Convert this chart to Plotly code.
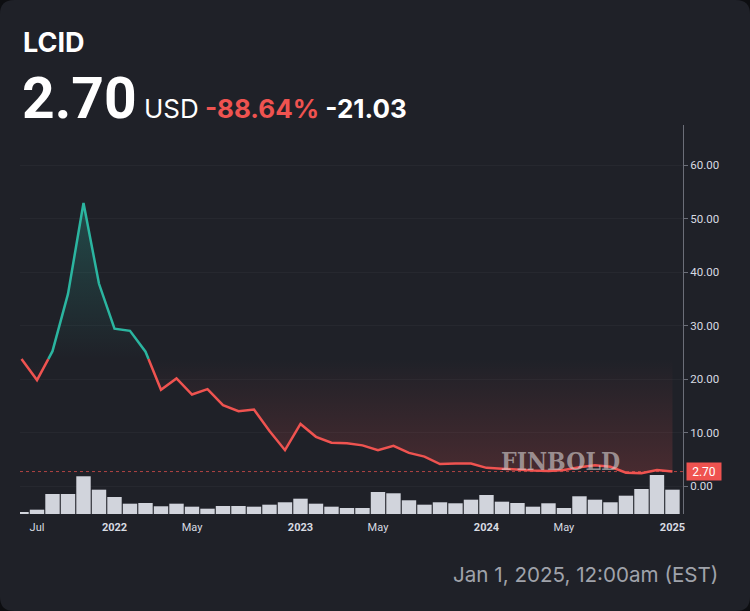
import numpy as np
import plotly.graph_objects as go

# ---------------- data ----------------
price = [23.73, 19.8, 25.2, 35.9, 52.9, 37.8, 29.4, 29.0, 25.1, 18.0,
         20.1, 17.1, 18.1, 15.1, 14.0, 14.3, 10.3, 6.7, 11.6, 9.2,
         8.1, 8.0, 7.6, 6.7, 7.5, 6.2, 5.5, 4.1, 4.2, 4.2,
         3.4, 3.2, 3.1, 2.9, 2.8, 3.0, 3.5, 3.9, 3.6, 2.5,
         2.4, 3.0, 2.70]
volume_m = [50, 108, 500, 500, 943, 608, 425, 258, 275, 193,
            258, 183, 133, 200, 200, 183, 233, 293, 383, 258,
            183, 150, 150, 550, 518, 343, 233, 293, 268, 358,
            475, 308, 275, 183, 268, 150, 443, 358, 293, 458,
            625, 975, 608]
tick_pos = [1, 6, 11, 18, 23, 30, 35, 42]
tick_text = ["Jul", "<b>2022</b>", "May", "<b>2023</b>", "May", "<b>2024</b>", "May", "<b>2025</b>"]
y_ticks = [0, 10, 20, 30, 40, 50, 60]
symbol = "LCID"
last_price = "2.70"
change_pct = "-88.64%"
change_abs = "-21.03"
timestamp = "Jan 1, 2025, 12:00am (EST)"

# ---------------- styling ----------------
BG = "#1f2128"
OUTER = "#0d0e11"
GREEN = "#2bb5a0"
RED = "#ef5350"
TXT = "#d8dbe2"
W, H = 750, 611
ML, MR, MT, MB = 20, 67, 125, 97
PW, PH = W - ML - MR, H - MT - MB

def px(xp):
    return (xp - ML) / PW

def py(yp):
    return (H - MB - yp) / PH

# ---------------- baseline split ----------------
base = price[0]
xs, ys = [], []
for i in range(len(price)):
    xs.append(i)
    ys.append(price[i])
    if i < len(price) - 1:
        a, b = price[i] - base, price[i + 1] - base
        if a * b < 0:
            t = (base - price[i]) / (price[i + 1] - price[i])
            xs.append(i + t)
            ys.append(base)
xs = np.array(xs, dtype=float)
ys = np.array(ys, dtype=float)
upper = np.maximum(ys, base)
lower = np.minimum(ys, base)
green_y = [v if v >= base else None for v in ys]
red_y = [v if v <= base else None for v in ys]

fig = go.Figure()
fig.add_trace(go.Scatter(x=xs, y=[base] * len(xs), mode="lines",
                         line=dict(width=0), hoverinfo="skip", showlegend=False))
fig.add_trace(go.Scatter(x=xs, y=upper, mode="lines", line=dict(width=0),
                         fill="tonexty",
                         fillgradient=dict(type="vertical",
                                           colorscale=[[0, "rgba(43,181,160,0)"], [1, "rgba(43,181,160,0.28)"]],
                                           start=base, stop=max(price)),
                         hoverinfo="skip", showlegend=False))
fig.add_trace(go.Scatter(x=xs, y=[base] * len(xs), mode="lines",
                         line=dict(width=0), hoverinfo="skip", showlegend=False))
fig.add_trace(go.Scatter(x=xs, y=lower, mode="lines", line=dict(width=0),
                         fill="tonexty",
                         fillgradient=dict(type="vertical",
                                           colorscale=[[0, "rgba(239,83,80,0.22)"], [1, "rgba(239,83,80,0)"]],
                                           start=0, stop=base),
                         hoverinfo="skip", showlegend=False))
fig.add_trace(go.Scatter(x=xs, y=green_y, mode="lines", line=dict(color=GREEN, width=2.5),
                         connectgaps=False, hoverinfo="skip", showlegend=False))
fig.add_trace(go.Scatter(x=xs, y=red_y, mode="lines", line=dict(color=RED, width=2.5),
                         connectgaps=False, hoverinfo="skip", showlegend=False))
fig.add_trace(go.Bar(x=list(range(len(volume_m))), y=volume_m, yaxis="y2",
                     marker=dict(color="#d1d4dc", line=dict(width=0)),
                     hoverinfo="skip", showlegend=False))

r = 14
path = (f"M {px(r)},{py(0)} L {px(W - r)},{py(0)} Q {px(W)},{py(0)} {px(W)},{py(r)} "
        f"L {px(W)},{py(H - r)} Q {px(W)},{py(H)} {px(W - r)},{py(H)} "
        f"L {px(r)},{py(H)} Q {px(0)},{py(H)} {px(0)},{py(H - r)} "
        f"L {px(0)},{py(r)} Q {px(0)},{py(0)} {px(r)},{py(0)} Z")
shapes = [
    dict(type="path", path=path, xref="paper", yref="paper", fillcolor=BG,
         line=dict(width=0), layer="below"),
    dict(type="line", xref="paper", yref="y", x0=0, x1=1, y0=float(last_price), y1=float(last_price),
         line=dict(color="rgba(239,83,80,0.7)", width=1, dash="dot"), layer="above"),
]

annotations = [
    dict(text=f"<b>{symbol}</b>", x=px(21), y=py(42), xref="paper", yref="paper",
         xanchor="left", yanchor="middle", showarrow=False,
         font=dict(family="Inter", size=27, color="#ffffff")),
    dict(text=(f"<span style='font-size:57px;font-weight:bold;font-family:Roboto'>{last_price}</span> "
               f"<span style='font-size:26px'>USD</span>"
               f"<span style='font-size:26px;font-weight:bold;color:{RED}'> {change_pct}</span>"
               f"<span style='font-size:26px;font-weight:bold'> {change_abs}</span>"),
         x=px(20), y=py(98), xref="paper", yref="paper",
         xanchor="left", yanchor="middle", showarrow=False,
         font=dict(family="Inter", size=26, color="#ffffff")),
    dict(text=timestamp, x=px(720), y=py(574), xref="paper", yref="paper",
         xanchor="right", yanchor="middle", showarrow=False,
         font=dict(family="Inter", size=20.6, color="#a0a3ab")),
    dict(text="<b>FINBOLD</b>", x=px(560), y=py(461), xref="paper", yref="paper",
         xanchor="center", yanchor="middle", showarrow=False,
         font=dict(family="DejaVu Serif Condensed, Liberation Serif", size=24.5,
                   color="rgba(215,210,210,0.6)")),
    dict(text=last_price, x=1, y=float(last_price), xref="paper", yref="y",
         xanchor="left", yanchor="middle", xshift=3, showarrow=False,
         bgcolor=RED, borderpad=1, width=32, height=15,
         font=dict(family="Roboto", size=12, color="#ffffff")),
]

fig.update_layout(
    width=W, height=H, autosize=False,
    margin=dict(l=ML, r=MR, t=MT, b=MB),
    paper_bgcolor=OUTER, plot_bgcolor="rgba(0,0,0,0)",
    bargap=0.07,
    showlegend=False,
    hovermode=False,
    xaxis=dict(range=[-0.097, 42.68], tickvals=tick_pos, ticktext=tick_text,
               showgrid=False, zeroline=False, showline=False, ticks="",
               ticklabelstandoff=5,
               tickfont=dict(family="Roboto", size=11, color=TXT), fixedrange=True),
    yaxis=dict(side="right", range=[-5.23, 67.48], tickvals=y_ticks,
               tickformat=".2f", showgrid=True, gridcolor="rgba(255,255,255,0.035)",
               zeroline=False, showline=True, linecolor="#6b6e78", linewidth=1,
               ticks="outside", ticklen=4, tickcolor="#6b6e78",
               tickfont=dict(family="Roboto", size=11.5, color=TXT), fixedrange=True),
    yaxis2=dict(overlaying="y", range=[0, 9725], visible=False, fixedrange=True),
    shapes=shapes,
    annotations=annotations,
)

fig.write_html("out.html", config={"displayModeBar": False, "staticPlot": True},
               post_script="document.body.style.margin='0';document.body.style.background='" + OUTER + "';")
